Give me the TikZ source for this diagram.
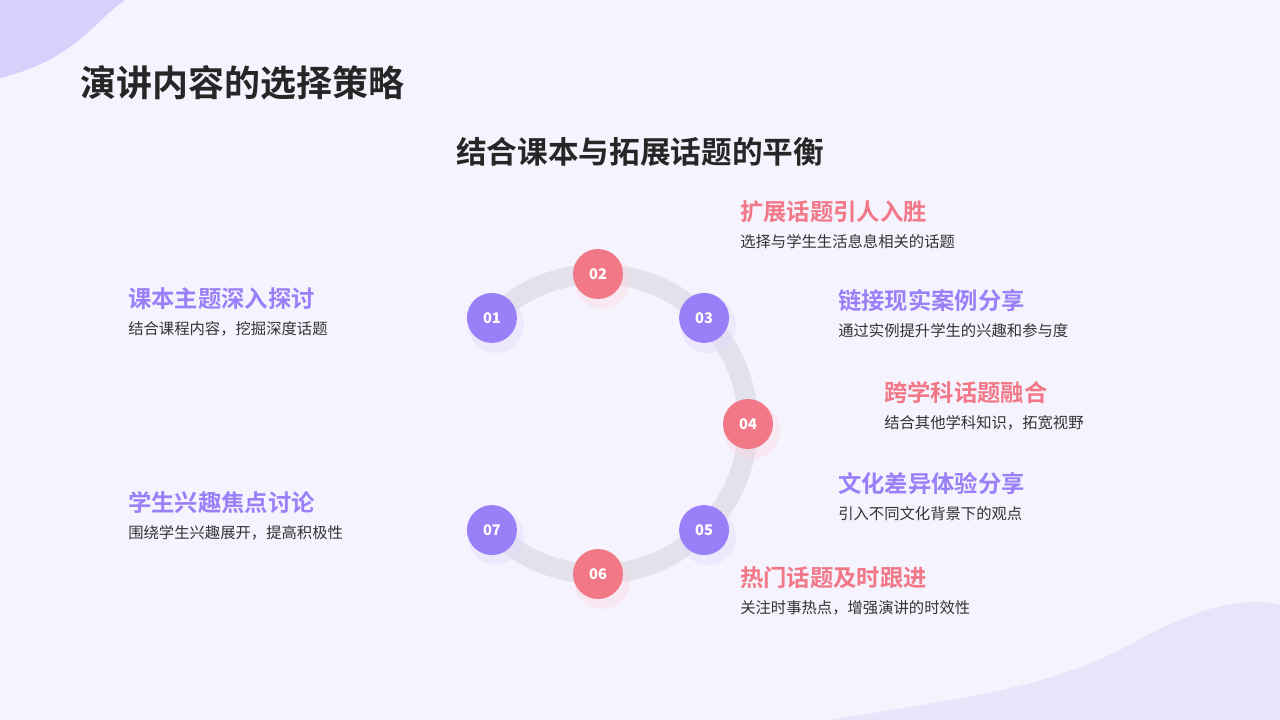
\documentclass[tikz,border=0pt]{standalone}
\usepackage{fontspec}
\setmainfont{Noto Sans CJK SC}
\newfontfamily\cjkbold{Noto Sans CJK SC Bold}
\usetikzlibrary{positioning, calc}
\definecolor{bgpage}{HTML}{F5F3FD}
\definecolor{blobpurple}{HTML}{D9CFFB}
\definecolor{blobpale}{HTML}{E9E4FA}
\definecolor{ringgray}{HTML}{E3E1EB}
\definecolor{topicpurple}{HTML}{9980F8}
\definecolor{topicpink}{HTML}{F27888}
\definecolor{darktext}{HTML}{262626}
\definecolor{desctext}{HTML}{333333}
\begin{document}
\begin{tikzpicture}[x=0.75pt,y=-0.75pt,
    dot/.style={circle, minimum size=37.5pt, inner sep=0pt, text=white, font=\fontsize{11}{12}\selectfont\bfseries},
    heading/.style={anchor=west, inner sep=0pt, font=\cjkbold\fontsize{17.5}{20}\selectfont},
    desc/.style={anchor=west, inner sep=0pt, text=desctext, font=\fontsize{11.5}{13}\selectfont}
]
% background
\fill[bgpage] (0,0) rectangle (1280,720);
\useasboundingbox (0,0) rectangle (1280,720);
\fill[blobpurple] (0,0) -- (125,0) .. controls (95,20) and (75,60) .. (0,78) -- cycle;
\fill[blobpale] (830,720) .. controls (950,700) and (1040,690) .. (1120,650)
  .. controls (1190,610) and (1240,595) .. (1280,605) -- (1280,720) -- cycle;

% titles
\node[anchor=west, inner sep=0pt, text=darktext, font=\cjkbold\fontsize{27}{30}\selectfont] (title) at (80,83) {演讲内容的选择策略};
\node[inner sep=0pt, text=darktext, font=\cjkbold\fontsize{23}{26}\selectfont] (subtitle) at (640,152) {结合课本与拓展话题的平衡};

% ring
\coordinate (hub) at (598,424);
\draw[ringgray, line width=15pt] ($(hub)+(225:150)$) arc[start angle=225, end angle=495, radius=150];

% markers
\foreach \n/\a/\c in {1/225/topicpurple, 2/270/topicpink, 3/315/topicpurple, 4/360/topicpink,
                       5/405/topicpurple, 6/450/topicpink, 7/495/topicpurple} {
  \fill[\c!30, opacity=0.35] ($(hub)+(\a:150)+(4,7)$) circle (21pt);
  \node[dot, fill=\c] (c\n) at ($(hub)+(\a:150)$) {0\n};
}

% right side topics
\node[heading, text=topicpink] (h2) at (740,212) {扩展话题引人入胜};
\node[desc, below=14pt of h2.south west, anchor=west] (d2) {选择与学生生活息息相关的话题};
\node[heading, text=topicpurple] (h3) at (838,301) {链接现实案例分享};
\node[desc, below=14pt of h3.south west, anchor=west] (d3) {通过实例提升学生的兴趣和参与度};
\node[heading, text=topicpink] (h4) at (884,393) {跨学科话题融合};
\node[desc, below=14pt of h4.south west, anchor=west] (d4) {结合其他学科知识，拓宽视野};
\node[heading, text=topicpurple] (h5) at (838,484) {文化差异体验分享};
\node[desc, below=14pt of h5.south west, anchor=west] (d5) {引入不同文化背景下的观点};
\node[heading, text=topicpink] (h6) at (740,578) {热门话题及时跟进};
\node[desc, below=14pt of h6.south west, anchor=west] (d6) {关注时事热点，增强演讲的时效性};

% left side topics
\node[heading, text=topicpurple] (h1) at (128,299) {课本主题深入探讨};
\node[desc, below=14pt of h1.south west, anchor=west] (d1) {结合课程内容，挖掘深度话题};
\node[heading, text=topicpurple] (h7) at (128,503) {学生兴趣焦点讨论};
\node[desc, below=14pt of h7.south west, anchor=west] (d7) {围绕学生兴趣展开，提高积极性};
\end{tikzpicture}
\end{document}
